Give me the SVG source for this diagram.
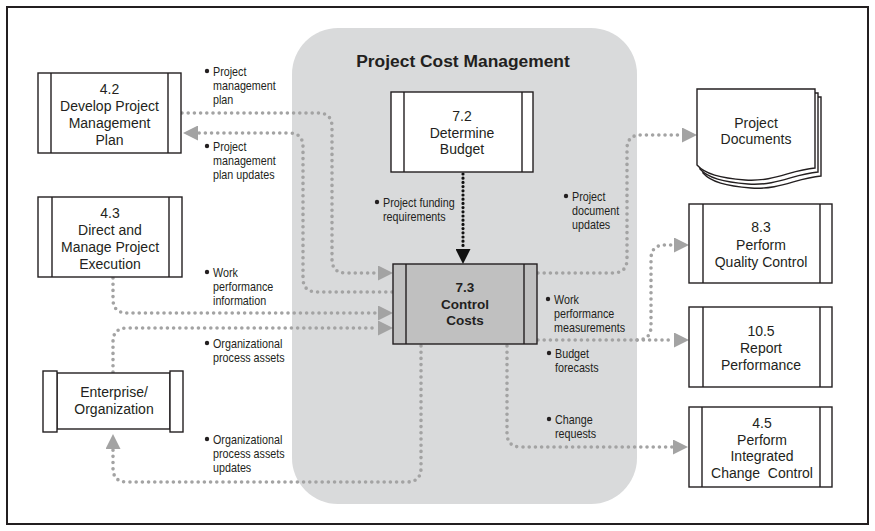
<svg xmlns="http://www.w3.org/2000/svg" width="875" height="531" viewBox="0 0 875 531">
<defs>
<style>
.box{fill:#fff;stroke:#231f20;stroke-width:1.4}
.ln{stroke:#231f20;stroke-width:1.4;fill:none}
.nt{font-family:"Liberation Sans",Arial,sans-serif;font-size:14px;fill:#231f20;text-anchor:middle}
.nb{font-family:"Liberation Sans",Arial,sans-serif;font-size:13.5px;font-weight:bold;fill:#231f20;text-anchor:middle}
.lb{font-family:"Liberation Sans",Arial,sans-serif;font-size:12.8px;fill:#231f20}
.dot{fill:#231f20}
.c{fill:none;stroke:#a3a3a3;stroke-width:3.6;stroke-linecap:round;stroke-dasharray:0 6.2;marker-end:url(#ga)}
</style>
<marker id="ga" markerUnits="userSpaceOnUse" markerWidth="15" markerHeight="15" viewBox="0 0 15 15" refX="0" refY="7.5" orient="auto"><path d="M0,0 L15,7.5 L0,15 z" fill="#a3a3a3"/></marker>
<marker id="ba" markerUnits="userSpaceOnUse" markerWidth="15" markerHeight="15" viewBox="0 0 15 15" refX="0" refY="7.5" orient="auto"><path d="M0,0 L15,7.5 L0,15 z" fill="#111"/></marker>
</defs>
<rect x="7" y="7" width="861" height="517" fill="#fff" stroke="#231f20" stroke-width="2"/>
<rect id="area" x="292" y="28" width="345" height="476" rx="46" fill="#d9dadb"/>
<text x="463" y="67" font-family="Liberation Sans,Arial,sans-serif" font-size="17.4" font-weight="bold" fill="#231f20" text-anchor="middle">Project Cost Management</text>

<g id="connectors">
<path class="c" d="M182,113 H318 Q332,113 332,127 V259 Q332,273 346,273 H378"/>
<path class="c" d="M392,292 H317 Q303,292 303,278 V147 Q303,133 289,133 H198"/>
<path class="c" d="M113,278 V299 Q113,313 127,313 H378"/>
<path class="c" d="M113,372 V342 Q113,328 127,328 H378"/>
<path class="c" d="M421,346 V468 Q421,482 407,482 H127 Q113,482 113,468 V449"/>
<path d="M463,174 V249" fill="none" stroke="#111" stroke-width="3.2" stroke-linecap="round" stroke-dasharray="0 4.2" marker-end="url(#ba)"/>
<path class="c" d="M538,273 H613 Q627,273 627,259 V149 Q627,135 641,135 H682"/>
<path class="c" d="M538,340 H674"/>
<path class="c" d="M637,340 Q651,340 651,326 V259 Q651,245 665,245 H674"/>
<path class="c" d="M507,346 V433 Q507,447 521,447 H673"/>
</g>

<g id="n42">
<rect class="box" x="38" y="73" width="143" height="80"/>
<path class="ln" d="M51,73 V153 M168,73 V153"/>
<text class="nt" x="109.5" y="94">4.2</text>
<text class="nt" x="109.5" y="111">Develop Project</text>
<text class="nt" x="109.5" y="128">Management</text>
<text class="nt" x="109.5" y="145">Plan</text>
</g>

<g id="n43">
<rect class="box" x="38" y="197" width="144" height="80"/>
<path class="ln" d="M52,197 V277 M169,197 V277"/>
<text class="nt" x="110" y="218">4.3</text>
<text class="nt" x="110" y="235">Direct and</text>
<text class="nt" x="110" y="252">Manage Project</text>
<text class="nt" x="110" y="269">Execution</text>
</g>

<g id="ent">
<rect class="box" x="57" y="373" width="113" height="56" stroke-width="1.8"/>
<rect class="box" x="43" y="371" width="14" height="61"/>
<rect class="box" x="170" y="371" width="13" height="61"/>
<text class="nt" x="114" y="397">Enterprise/</text>
<text class="nt" x="114" y="414">Organization</text>
</g>

<g id="n72">
<rect class="box" x="391" y="92" width="142" height="80"/>
<path class="ln" d="M404,92 V172 M522,92 V172"/>
<text class="nt" x="462" y="121">7.2</text>
<text class="nt" x="462" y="138">Determine</text>
<text class="nt" x="462" y="154">Budget</text>
</g>

<g id="n73">
<rect x="393" y="264" width="144" height="80" fill="#c0c0c0" stroke="#231f20" stroke-width="1.4"/>
<path class="ln" d="M406,264 V344 M524,264 V344"/>
<text class="nb" x="465" y="292">7.3</text>
<text class="nb" x="465" y="308.5">Control</text>
<text class="nb" x="465" y="325">Costs</text>
</g>

<g id="docs">
<path class="box" d="M703,97 H821 V176 C796,178 781,190 751,188 C726,186 711,182 703,173 Z"/>
<path class="box" d="M700,93 H818 V172 C793,174 778,186 748,184 C723,182 708,178 700,169 Z"/>
<path class="box" d="M697,89 H815 V168 C790,170 775,182 745,180 C720,178 705,174 697,165 Z"/>
<text class="nt" x="756" y="128">Project</text>
<text class="nt" x="756" y="144">Documents</text>
</g>

<g id="n83">
<rect class="box" x="689" y="204" width="143" height="79"/>
<path class="ln" d="M703,204 V283 M820,204 V283"/>
<text class="nt" x="761" y="232">8.3</text>
<text class="nt" x="761" y="250">Perform</text>
<text class="nt" x="761" y="267">Quality Control</text>
</g>

<g id="n105">
<rect class="box" x="689" y="307" width="143" height="80"/>
<path class="ln" d="M703,307 V387 M820,307 V387"/>
<text class="nt" x="761" y="336">10.5</text>
<text class="nt" x="761" y="353">Report</text>
<text class="nt" x="761" y="370">Performance</text>
</g>

<g id="n45">
<rect class="box" x="689" y="407" width="143" height="80"/>
<path class="ln" d="M702,407 V487 M820,407 V487"/>
<text class="nt" x="762" y="428">4.5</text>
<text class="nt" x="762" y="445">Perform</text>
<text class="nt" x="762" y="461">Integrated</text>
<text class="nt" x="762" y="478" xml:space="preserve">Change  Control</text>
</g>

<g id="labels">
<circle class="dot" cx="207" cy="71" r="2.2"/>
<text class="lb" transform="translate(213,75.5) scale(0.84,1)">Project<tspan x="0" dy="14.5">management</tspan><tspan x="0" dy="14.5">plan</tspan></text>
<circle class="dot" cx="207" cy="146" r="2.2"/>
<text class="lb" transform="translate(213,150.5) scale(0.84,1)">Project<tspan x="0" dy="14.5">management</tspan><tspan x="0" dy="14.5">plan updates</tspan></text>
<circle class="dot" cx="377" cy="202" r="2.2"/>
<text class="lb" transform="translate(383,206.5) scale(0.84,1)">Project funding<tspan x="0" dy="14.5">requirements</tspan></text>
<circle class="dot" cx="566" cy="196" r="2.2"/>
<text class="lb" transform="translate(572,200.5) scale(0.84,1)">Project<tspan x="0" dy="14.5">document</tspan><tspan x="0" dy="14.5">updates</tspan></text>
<circle class="dot" cx="207" cy="272" r="2.2"/>
<text class="lb" transform="translate(213,276.5) scale(0.84,1)">Work<tspan x="0" dy="14.5">performance</tspan><tspan x="0" dy="14.5">information</tspan></text>
<circle class="dot" cx="207" cy="343" r="2.2"/>
<text class="lb" transform="translate(213,347.5) scale(0.84,1)">Organizational<tspan x="0" dy="14.5">process assets</tspan></text>
<circle class="dot" cx="548" cy="299" r="2.2"/>
<text class="lb" transform="translate(554,303.5) scale(0.84,1)">Work<tspan x="0" dy="14.5">performance</tspan><tspan x="0" dy="14.5">measurements</tspan></text>
<circle class="dot" cx="549" cy="353" r="2.2"/>
<text class="lb" transform="translate(555,357.5) scale(0.84,1)">Budget<tspan x="0" dy="14.5">forecasts</tspan></text>
<circle class="dot" cx="549" cy="419" r="2.2"/>
<text class="lb" transform="translate(555,423.5) scale(0.84,1)">Change<tspan x="0" dy="14.5">requests</tspan></text>
<circle class="dot" cx="207" cy="439" r="2.2"/>
<text class="lb" transform="translate(213,443.5) scale(0.84,1)">Organizational<tspan x="0" dy="14.5">process assets</tspan><tspan x="0" dy="14.5">updates</tspan></text>
</g>
</svg>
